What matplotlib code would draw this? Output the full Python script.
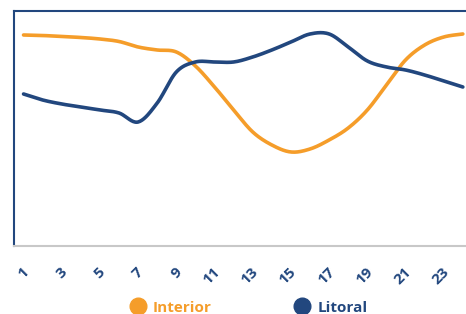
import numpy as np
import matplotlib
matplotlib.use('Agg')
import matplotlib.pyplot as plt
import matplotlib.transforms as mtrans
from matplotlib.lines import Line2D

# hourly profile, values (arbitrary units, no y axis shown)
hours = list(range(1, 25))
interior = [211, 210.5, 209.5, 208.5, 207, 204.5, 199, 196, 194, 180, 159, 136,
            114, 101, 94, 97, 106, 118, 136, 161, 186, 201, 209, 212]
litoral = [152, 146, 142, 139, 136, 133, 124, 143, 174, 184, 184, 184,
           189, 196, 204, 212, 212, 199, 185, 179, 176, 171, 165, 159]
tick_labels = [str(h) for h in hours[::2]]

orange = '#F59D2A'
blue = '#22477E'


def smooth(x, y, n=20):
    # catmull-rom, like the "smoothed line" option of office charts
    x = np.asarray(x, float)
    y = np.asarray(y, float)
    px = np.r_[x[0], x, x[-1]]
    py = np.r_[y[0], y, y[-1]]
    xs, ys = [], []
    t = np.linspace(0, 1, n, endpoint=False)
    for i in range(1, len(px) - 2):
        for p, out in ((px, xs), (py, ys)):
            p0, p1, p2, p3 = p[i - 1], p[i], p[i + 1], p[i + 2]
            out.extend(0.5 * (2 * p1 + (-p0 + p2) * t + (2 * p0 - 5 * p1 + 4 * p2 - p3) * t ** 2
                              + (-p0 + 3 * p1 - 3 * p2 + p3) * t ** 3))
    xs.append(x[-1])
    ys.append(y[-1])
    return xs, ys


fig = plt.figure(figsize=(4.66, 3.14), dpi=100)
ax = fig.add_axes([0.030, 0.2166, 0.9837, 0.7484])

ax.plot(*smooth(hours, interior), color=orange, lw=2.6, solid_capstyle='round')
ax.plot(*smooth(hours, litoral), color=blue, lw=2.6, solid_capstyle='round')

ax.set_xlim(0.5, 24.5)
ax.set_ylim(0, 235)
ax.set_yticks([])
ax.set_xticks(hours[::2])
ax.set_xticklabels(tick_labels, rotation=45, ha='right', va='center', rotation_mode='anchor',
                   color=blue, fontsize=11, fontweight='bold', family='Open Sans')
ax.tick_params(axis='x', length=0, pad=17)
off = mtrans.ScaledTranslation(3 / 100, 0, fig.dpi_scale_trans)
for lbl in ax.get_xticklabels():
    lbl.set_transform(lbl.get_transform() + off)

for side in ['left', 'top']:
    ax.spines[side].set_color(blue)
    ax.spines[side].set_linewidth(1.5)
ax.spines['bottom'].set_color('#C8C8C8')
ax.spines['bottom'].set_linewidth(1.5)
ax.spines['right'].set_visible(False)

handles = [Line2D([], [], ls='', marker='o', ms=12, color=orange),
           Line2D([], [], ls='', marker='o', ms=12, color=blue)]
leg = fig.legend(handles, ['Interior', 'Litoral'], loc='center', bbox_to_anchor=(0.534, 0.02),
                 ncol=2, frameon=False, columnspacing=5.4, handletextpad=0.5, handlelength=1,
                 prop={'family': 'Open Sans', 'weight': 'bold', 'size': 11})
for txt, c in zip(leg.get_texts(), [orange, blue]):
    txt.set_color(c)

fig.savefig('out.png', dpi=100)
